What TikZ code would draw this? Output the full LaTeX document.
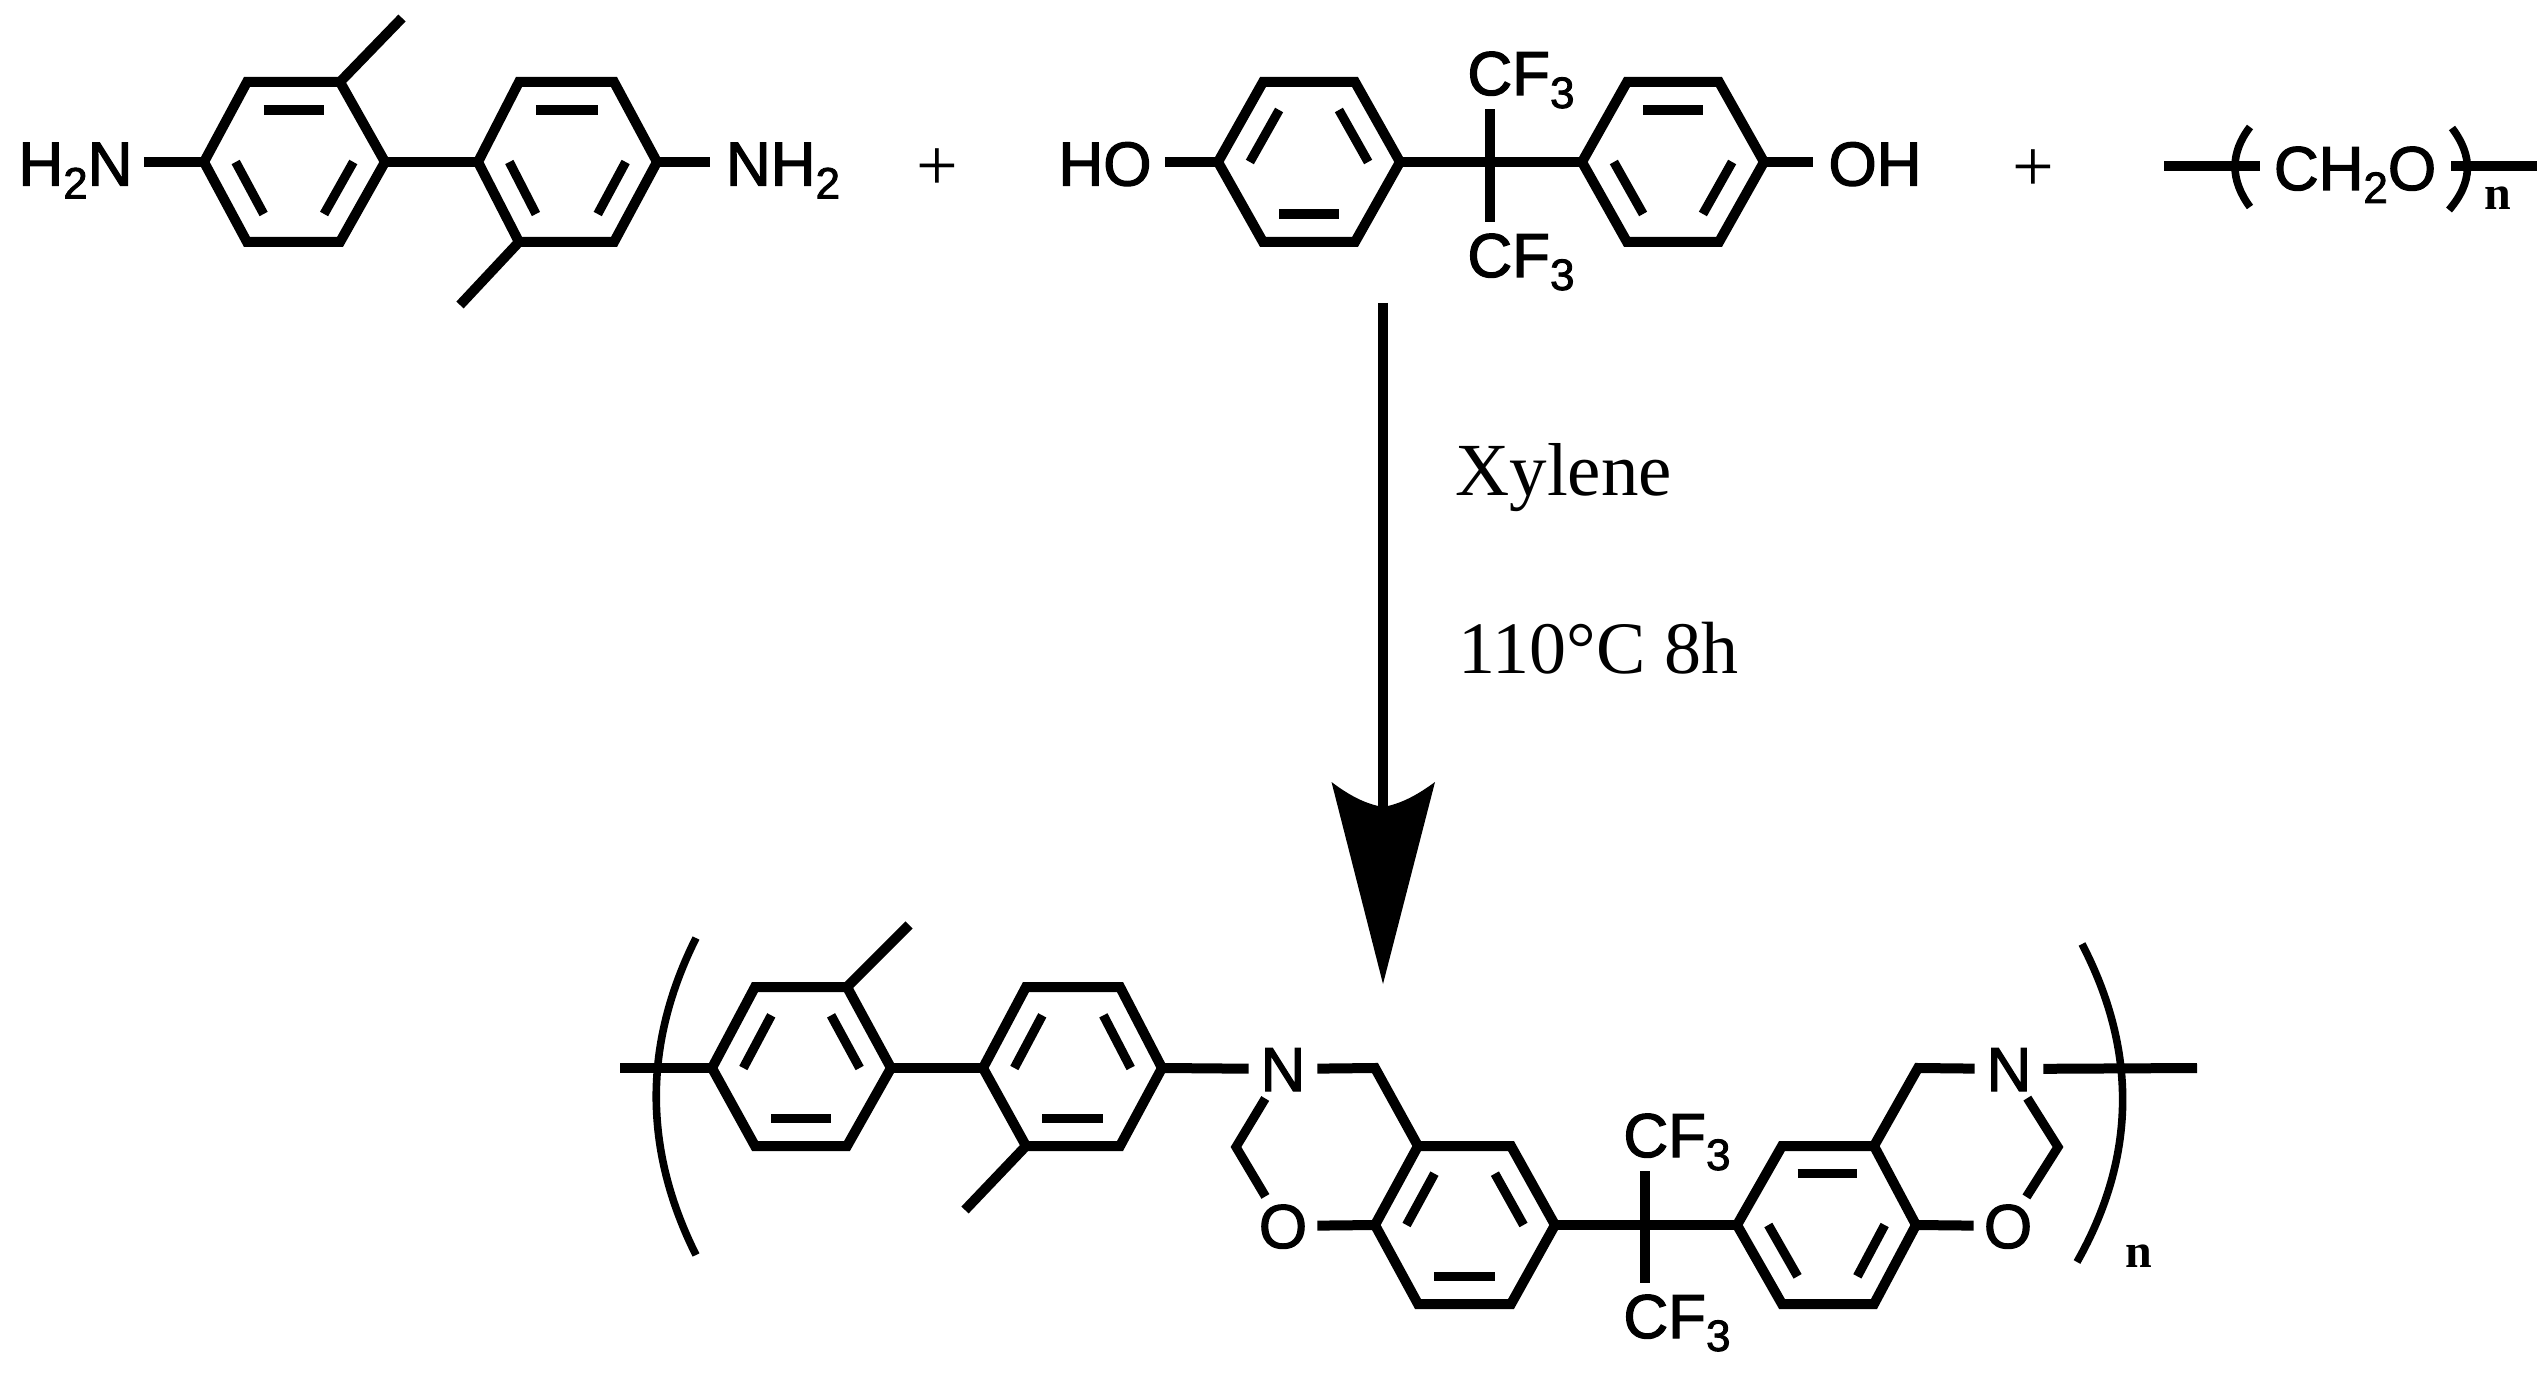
\documentclass[tikz,border=0pt]{standalone}
\usepackage{fontspec}
\setmainfont{Liberation Serif}
\newfontfamily\chemfont[FakeBold=2]{Liberation Sans}
\usetikzlibrary{calc}
\newcommand{\chemsub}[1]{\raisebox{-6.5pt}{\fontsize{22}{22}\selectfont #1}}
% ring: prefix, four x values (left, top-left, top-right, right), three y values (top, middle, bottom)
\newcommand{\hexring}[8]{%
  \coordinate (#1-l) at (#2,#7);
  \coordinate (#1-tl) at (#3,#6);
  \coordinate (#1-tr) at (#4,#6);
  \coordinate (#1-r) at (#5,#7);
  \coordinate (#1-br) at (#4,#8);
  \coordinate (#1-bl) at (#3,#8);
  \coordinate (#1-c) at ($(#1-l)!.5!(#1-r)$);
  \draw[bond] (#1-l) -- (#1-tl) -- (#1-tr) -- (#1-r) -- (#1-br) -- (#1-bl) -- cycle;
}
\newcommand{\innerbond}[3]{\draw[inner bond] ($(#1-#2)!.35!(#1-c)$) -- ($(#1-#3)!.35!(#1-c)$);}
\tikzset{
  x=0.5pt, y=-0.5pt,
  bond/.style={line width=5pt, line join=miter, black},
  inner bond/.style={line width=4.6pt, black},
  thin bond/.style={line width=4.6pt, line join=miter, black},
  bracket/.style={line width=3.8pt, black},
  smallbracket/.style={line width=3.8pt, black},
  atomtext/.style={font=\chemfont\fontsize{31}{31}\selectfont, text height=30pt, text depth=6.5pt, inner ysep=0pt},
  ringatom/.style={circle, inner sep=0pt, minimum size=34pt, font=\chemfont\fontsize{31}{31}\selectfont, text height=22pt, text depth=0pt},
  cfgroup/.style={font=\chemfont\fontsize{31}{31}\selectfont, text height=27.5pt, text depth=7pt, inner sep=0pt, anchor=base west},
  plussign/.style={font=\fontsize{37}{37}\selectfont, inner sep=0pt},
  condition/.style={font=\fontsize{37.5}{37.5}\selectfont, inner sep=0pt, anchor=base west},
  tempcondition/.style={font=\fontsize{37}{37}\selectfont, inner sep=0pt, anchor=base west},
  repeatn/.style={font=\bfseries\fontsize{24}{24}\selectfont, inner sep=0pt, anchor=base west},
}
\begin{document}
\begin{tikzpicture}
\useasboundingbox (0,0) rectangle (2545,1374);
% --- diamine ---
\hexring{a}{204}{247}{340}{385}{82}{162}{242}
\innerbond{a}{tl}{tr}\innerbond{a}{l}{bl}\innerbond{a}{r}{br}
\hexring{b}{478}{519}{614}{657}{82}{162}{242}
\innerbond{b}{tl}{tr}\innerbond{b}{l}{bl}\innerbond{b}{r}{br}
\draw[bond] (a-r) -- (b-l);
\coordinate (ma) at (402,18);
\coordinate (mb) at (460,305);
\draw[bond] (a-tr) -- (ma);
\draw[bond] (b-bl) -- (mb);
\node[atomtext, inner xsep=5.5pt] (h2n) at (75.5,162) {H\chemsub{2}N};
\node[atomtext, inner xsep=8pt] (nh2) at (783,162) {NH\chemsub{2}};
\draw[bond] (h2n) -- (a-l);
\draw[bond] (b-r) -- (nh2);
\node[plussign] (plus1) at (937,170) {+};
% --- bisphenol AF ---
\hexring{c}{1218}{1263}{1355}{1400}{82}{162}{242}
\innerbond{c}{l}{tl}\innerbond{c}{tr}{r}\innerbond{c}{bl}{br}
\hexring{d}{1582}{1627}{1719}{1764}{82}{162}{242}
\innerbond{d}{tl}{tr}\innerbond{d}{l}{bl}\innerbond{d}{r}{br}
\coordinate (cq) at (1490,162);
\draw[bond] (c-r) -- (cq) -- (d-l);
\node[atomtext, inner xsep=6.5pt] (ho) at (1105,162) {HO};
\node[atomtext, inner xsep=7.5pt] (oh) at (1875,162) {OH};
\draw[bond] (ho) -- (c-l);
\draw[bond] (d-r) -- (oh);
\node[cfgroup] (cfa) at (1467,95) {CF\chemsub{3}};
\node[cfgroup] (cfb) at (1467,277) {CF\chemsub{3}};
\draw[bond] (cfa.south -| cq) -- (cq) -- (cfb.north -| cq);
\node[plussign] (plus2) at (2033,171) {+};
% --- paraformaldehyde ---
\coordinate (fs) at (2164,166);
\coordinate (fp) at (2451,166);
\coordinate (fe) at (2537,166);
\node[atomtext, inner xsep=6.5pt, text height=30pt, text depth=6pt] (ch2o) at (2355,166) {CH\chemsub{2}O};
\draw[bond] (fs) -- (ch2o);
\draw[bond] (fp) -- (fe);
\draw[smallbracket] (2250,127) .. controls (2230,153) and (2230,180) .. (2250,207);
\draw[smallbracket] (2452,128) .. controls (2473,156) and (2473,182) .. (2449,210);
\node[repeatn] (na) at (2484,210) {n};
% --- reaction arrow ---
\coordinate (arrstart) at (1383,303);
\coordinate (arrtip) at (1383,984);
\coordinate (arrnotch) at (1383,807);
\draw[line width=4.8pt, black] (arrstart) -- (arrnotch);
\fill[black] (arrtip) -- (1331.5,782) .. controls (1350,796) and (1366,804) .. (arrnotch) .. controls (1400,804) and (1416,796) .. (1435,782) -- cycle;
\node[condition] (xyl) at (1455,496) {Xylene};
\node[tempcondition] (temp) at (1458,673) {110°C 8h};
% --- polymer ---
\hexring{e}{712}{755}{847}{891}{987}{1068}{1146}
\innerbond{e}{l}{tl}\innerbond{e}{tr}{r}\innerbond{e}{bl}{br}
\hexring{f}{983}{1026}{1120}{1162}{987}{1068}{1146}
\innerbond{f}{l}{tl}\innerbond{f}{tr}{r}\innerbond{f}{bl}{br}
\hexring{g}{1375}{1418}{1511}{1555}{1146}{1225}{1304}
\innerbond{g}{l}{tl}\innerbond{g}{tr}{r}\innerbond{g}{bl}{br}
\hexring{h}{1737}{1782}{1874}{1916}{1146}{1225}{1304}
\innerbond{h}{tl}{tr}\innerbond{h}{l}{bl}\innerbond{h}{r}{br}
\draw[bond] (e-r) -- (f-l);
\coordinate (me) at (909,925);
\coordinate (mf) at (965,1210);
\draw[bond] (e-tr) -- (me);
\draw[bond] (f-bl) -- (mf);
\coordinate (ps) at (620,1068);
\draw[bond] (ps) -- (e-l);
\node[ringatom] (n1) at (1283,1069) {N};
\node[ringatom] (o1) at (1283,1226) {O};
\node[ringatom] (n2) at (2009,1069) {N};
\node[ringatom] (o2) at (2008,1226) {O};
\coordinate (ch2a) at (1375,1068);
\coordinate (cha) at (1236,1147);
\coordinate (ch2b) at (1918,1068);
\coordinate (chb) at (2058,1147);
\draw[bond] (f-r) -- (n1);
\draw[bond] (n1) -- (ch2a) -- (g-tl);
\draw[thin bond] (n1) -- (cha) -- (o1);
\draw[bond] (o1) -- (g-l);
\draw[bond] (h-tr) -- (ch2b) -- (n2);
\draw[thin bond] (n2) -- (chb) -- (o2);
\draw[bond] (h-r) -- (o2);
\coordinate (pe) at (2197,1068);
\draw[bond] (n2) -- (pe);
\coordinate (cr) at (1645,1225);
\draw[bond] (g-r) -- (cr) -- (h-l);
\node[cfgroup] (cfc) at (1623,1157) {CF\chemsub{3}};
\node[cfgroup] (cfd) at (1623,1338) {CF\chemsub{3}};
\draw[bond] (cfc.south -| cr) -- (cr) -- (cfd.north -| cr);
\draw[bracket] (696,938) .. controls (643,1044) and (643,1149) .. (696,1255);
\draw[bracket] (2082,944) .. controls (2137,1050) and (2137,1156) .. (2077,1262);
\node[repeatn] (nb) at (2125,1267) {n};
\end{tikzpicture}
\end{document}
